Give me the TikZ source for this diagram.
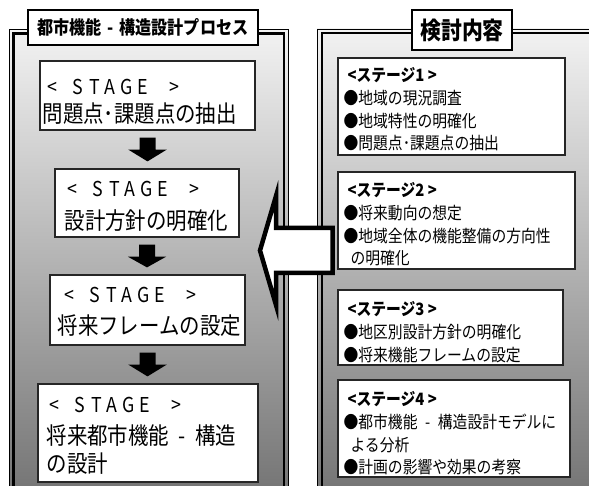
\documentclass[tikz,border=0pt]{standalone}
\usepackage{fontspec}
\setmainfont{Noto Sans CJK JP}[FakeStretch=0.87]
\usetikzlibrary{calc}
\definecolor{ptop}{gray}{0.95}
\definecolor{pbot}{gray}{0.45}
\newcommand\stglbl[1]{{\fontsize{20.5}{28}\selectfont\hspace*{#1}\makebox[25pt][l]{<}\makebox[17pt][l]{S}\makebox[15pt][l]{T}\makebox[16pt][l]{A}\makebox[17pt][l]{G}\makebox[32pt][l]{E}>}}
\newcommand\hy[1]{\makebox[#1em]{-}}
\newcommand\blockdown[2]{\fill[blockarrow] ($(#1.south)+(-8,7)$) -- ($(#1.south)+(8,7)$) -- ($(#1.south)+(8,19)$) -- ($(#1.south)+(19.25,19)$) -- ($(#1.south |- #2.north)+(0,-7)$) -- ($(#1.south)+(-19.25,19)$) -- ($(#1.south)+(-8,19)$) -- cycle;}
\begin{document}
\begin{tikzpicture}[x=1pt,y=-1pt,
  panel/.style={top color=ptop,bottom color=pbot},
  thinframe/.style={draw=black,line width=0.9pt},
  thickframe/.style={draw=black,line width=2.2pt},
  titlebox/.style={draw=black,line width=1.6pt,fill=white,inner sep=0pt,font=\fontsize{18.5}{22}\selectfont\bfseries},
  stagebox/.style={draw=black!85,line width=1.2pt,fill=white,inner sep=0pt},
  stxt/.style={inner sep=0pt,align=left,anchor=north west,font=\fontsize{23.5}{28}\selectfont},
  rtxt/.style={inner sep=0pt,align=left,anchor=north west,font=\fontsize{17}{22.7}\selectfont},
  blockarrow/.style={fill=black},
  bigarrow/.style={draw=black,line width=4.5pt,fill=white,line join=miter}
]
\useasboundingbox (0,0) rectangle (589,486);
\begin{scope}
\clip (0,0) rectangle (589,486);
% left panel
\shade[panel] (9,29.5) rectangle (288,500);
\draw[thinframe] (9,500) -- (9,29.5) -- (288,29.5) -- (288,500);
\draw[thickframe] (13.5,500) -- (13.5,33.5) -- (284,33.5) -- (284,500);
% right panel
\shade[panel] (317,29) rectangle (600,500);
\draw[thinframe] (317,500) -- (317,29) -- (600,29);
\draw[thickframe] (322,500) -- (322,33) -- (600,33);
% titles
\node[titlebox,minimum width=230pt,minimum height=35pt] (lt) at (143,27.5) {都市機能\hy{0.95}構造設計プロセス};
\node[titlebox,minimum width=100pt,minimum height=40pt,font=\fontsize{24}{26}\selectfont\bfseries] (rt) at (462,30) {検討内容};
% left stage boxes
\node[stagebox,minimum width=215pt,minimum height=69pt] (s1) at (147.5,95.5) {};
\node[stagebox,minimum width=184pt,minimum height=68pt] (s2) at (147,203) {};
\node[stagebox,minimum width=195pt,minimum height=70pt] (s3) at (147.5,310) {};
\node[stagebox,minimum width=220pt,minimum height=98pt] (s4) at (148,433) {};
\node[stxt] (t1) at ($(s1.north west)+(3,19)$) {\stglbl{5pt}\\[-0.5pt]問題点･課題点の抽出};
\node[stxt] (t2) at ($(s2.north west)+(10,13)$) {\stglbl{3pt}\\[4.5pt]設計方針の明確化};
\node[stxt] (t3) at ($(s3.north west)+(8,13)$) {\stglbl{7pt}\\[4pt]将来フレームの設定};
\node[stxt] (t4) at ($(s4.north west)+(9,14)$) {\stglbl{3pt}\\[3.5pt]将来都市機能\hy{1.1}構造\\の設計};
\blockdown{s1}{s2}
\blockdown{s2}{s3}
\blockdown{s3}{s4}
% right boxes
\node[stagebox,minimum width=227pt,minimum height=97pt] (r1) at (451.5,106.5) {};
\node[stagebox,minimum width=237pt,minimum height=97pt] (r2) at (456.5,220.5) {};
\node[stagebox,minimum width=225pt,minimum height=75pt] (r3) at (450.5,327.5) {};
\node[stagebox,minimum width=232pt,minimum height=97pt] (r4) at (454,428.5) {};
\node[rtxt] (u1) at ($(r1.north west)+(6,10)$) {{\bfseries\hspace*{4pt}<ステージ1 >}\\●地域の現況調査\\●地域特性の明確化\\●問題点･課題点の抽出};
\node[rtxt] (u2) at ($(r2.north west)+(6,11)$) {{\bfseries\hspace*{4pt}<ステージ2 >}\\●将来動向の想定\\●地域全体の機能整備の方向性\\\hspace*{7pt}の明確化};
\node[rtxt] (u3) at ($(r3.north west)+(6,12)$) {{\bfseries\hspace*{4pt}<ステージ3 >}\\●地区別設計方針の明確化\\●将来機能フレームの設定};
\node[rtxt] (u4) at ($(r4.north west)+(6,12)$) {{\bfseries\hspace*{4pt}<ステージ4 >}\\●都市機能\hy{1.2}構造設計モデルに\\\hspace*{7pt}よる分析\\●計画の影響や効果の考察};
% big hollow arrow from right panel to left panel
\draw[bigarrow] (260,250.5) -- (276,196) -- (276,228) -- (332.5,228) -- (332.5,273) -- (276,273) -- (276,305) -- cycle;
\end{scope}
\end{tikzpicture}
\end{document}
